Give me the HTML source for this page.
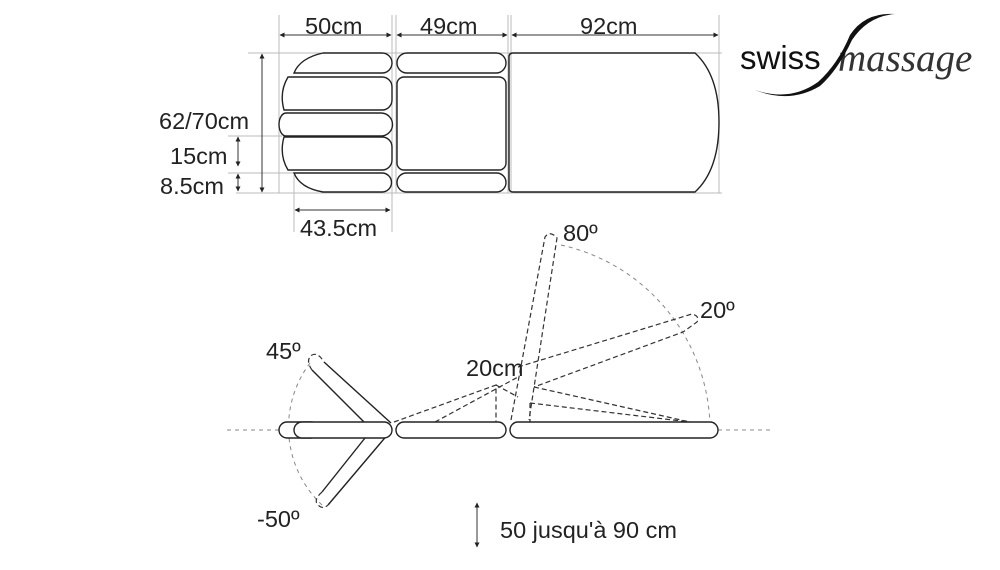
<!DOCTYPE html>
<html><head><meta charset="utf-8"><style>
html,body{margin:0;padding:0;background:#fff;}
svg{display:block;}
text{font-family:"Liberation Sans",sans-serif;fill:#222;}
</style></head><body>
<svg width="1000" height="570" viewBox="0 0 1000 570" xmlns="http://www.w3.org/2000/svg">
<defs>
<marker id="a" viewBox="0 0 10 10" refX="9" refY="5" markerWidth="5" markerHeight="5" orient="auto-start-reverse"><path d="M0,0L10,5L0,10z" fill="#222"/></marker>
</defs>
<g stroke="#bbb" stroke-width="1" fill="none">
<line x1="248" y1="53" x2="722" y2="53"/>
<line x1="236" y1="193" x2="722" y2="193"/>
<line x1="279" y1="15" x2="279" y2="193"/>
<line x1="392" y1="15" x2="392" y2="232"/>
<line x1="396" y1="15" x2="396" y2="193"/>
<line x1="508" y1="15" x2="508" y2="193"/>
<line x1="511" y1="15" x2="511" y2="193"/>
<line x1="719" y1="15" x2="719" y2="193"/>
<line x1="294" y1="175" x2="294" y2="232"/>
<line x1="228" y1="136" x2="282" y2="136"/>
<line x1="228" y1="173" x2="294" y2="173"/>
</g>
<g stroke="#333" stroke-width="1" fill="none" marker-start="url(#a)" marker-end="url(#a)">
<line x1="280" y1="35" x2="391" y2="35"/>
<line x1="397" y1="35" x2="507" y2="35"/>
<line x1="512" y1="35" x2="718" y2="35"/>
<line x1="262" y1="54" x2="262" y2="192"/>
<line x1="238" y1="137" x2="238" y2="166"/>
<line x1="238" y1="174" x2="238" y2="191"/>
<line x1="295" y1="210" x2="390" y2="210"/>
<line x1="477" y1="503" x2="477" y2="547"/>
</g>
<g stroke="#222" stroke-width="1.4" fill="none">
<path d="M294,73 Q300,58 323,53 L382,53 A10,10 0 0 1 382,73 Z"/>
<path d="M288,77 L382,77 A10,10 0 0 1 392,87 L392,100 A10,10 0 0 1 382,110 L284,110 Q279,92 288,77 Z"/>
<path d="M286,113 L381,113 A11.5,11.5 0 0 1 381,136 L286,136 A7,11.5 0 0 1 286,113 Z"/>
<path d="M284,137 L382,137 A10,10 0 0 1 392,147 L392,160 A10,10 0 0 1 382,170 L288,170 Q279,155 284,137 Z"/>
<path d="M294,173 L382,173 A9.5,9.5 0 0 1 382,192 L323,192 Q300,188 294,173 Z"/>
<rect x="397" y="53" width="109" height="20" rx="10"/>
<rect x="397" y="77" width="109" height="93" rx="7"/>
<rect x="397" y="173" width="109" height="19" rx="9.5"/>
<path d="M513,53 L695,53 Q719,75 719,122 Q719,170 695,192 L513,192 Q509,192 509,188 L509,57 Q509,53 513,53 Z"/>
</g>
<g stroke="#888" stroke-width="1" fill="none" stroke-dasharray="4,4">
<line x1="227" y1="430" x2="280" y2="430"/>
<line x1="718" y1="430" x2="771" y2="430"/>
<path d="M310,363 A107,107 0 0 0 322,505"/>
<path d="M561,245 A190,190 0 0 1 710,428"/>
</g>
<g stroke="#333" stroke-width="1.2" fill="none" stroke-dasharray="5,3">
<path d="M511,420 L545,237 Q550,230 557,238 L529,420"/>
<path d="M518,367 L692,314 Q700,316 697,322 L683,332 L534,387"/>
<path d="M394,422 L496,385 L496,422"/>
<path d="M435,422 L518,377"/>
<path d="M496,385 L518,397"/>
<path d="M534,387 L690,422"/>
<path d="M530,403 L530,422 M530,403 L690,422"/>
<path d="M312,370 Q305,360 312,355 Q318,352 324,362"/>
<path d="M322,492 Q313,500 318,505 Q323,510 328,505"/>
</g>
<g stroke="#222" stroke-width="1.4" fill="none">
<line x1="391" y1="423" x2="324" y2="362"/>
<line x1="364" y1="422" x2="312" y2="370"/>
<line x1="365" y1="438" x2="322" y2="492"/>
<line x1="389" y1="433" x2="328" y2="505"/>
<rect x="279" y="422" width="40" height="16" rx="8" fill="#fff"/>
<rect x="294" y="422" width="98" height="16" rx="8" fill="#fff"/>
<rect x="396" y="422" width="110" height="16" rx="8" fill="#fff"/>
<rect x="510" y="422" width="208" height="16" rx="8" fill="#fff"/>
</g>
<g font-size="23.5">
<text x="305" y="34">50cm</text>
<text x="420" y="34">49cm</text>
<text x="580" y="34">92cm</text>
<text x="159" y="129">62/70cm</text>
<text x="170" y="164">15cm</text>
<text x="160" y="194">8.5cm</text>
<text x="300" y="236">43.5cm</text>
<text x="563" y="241">80º</text>
<text x="700" y="318">20º</text>
<text x="266" y="359">45º</text>
<text x="466" y="376">20cm</text>
<text x="257" y="527">-50º</text>
<text x="500" y="538">50 jusqu'à 90 cm</text>
</g>
<text x="740" y="69" font-size="33" style="fill:#111">swiss</text>
<text x="838" y="71" font-size="39" font-style="italic" style="font-family:'Liberation Serif',serif;fill:#333">massage</text>
<path d="M755,90 Q790,102 818,82 Q838,64 850,35 Q865,12 895,14 Q868,16 852,40 Q838,70 820,86 Q790,104 755,90 Z" fill="#111"/>
</svg>
</body></html>
